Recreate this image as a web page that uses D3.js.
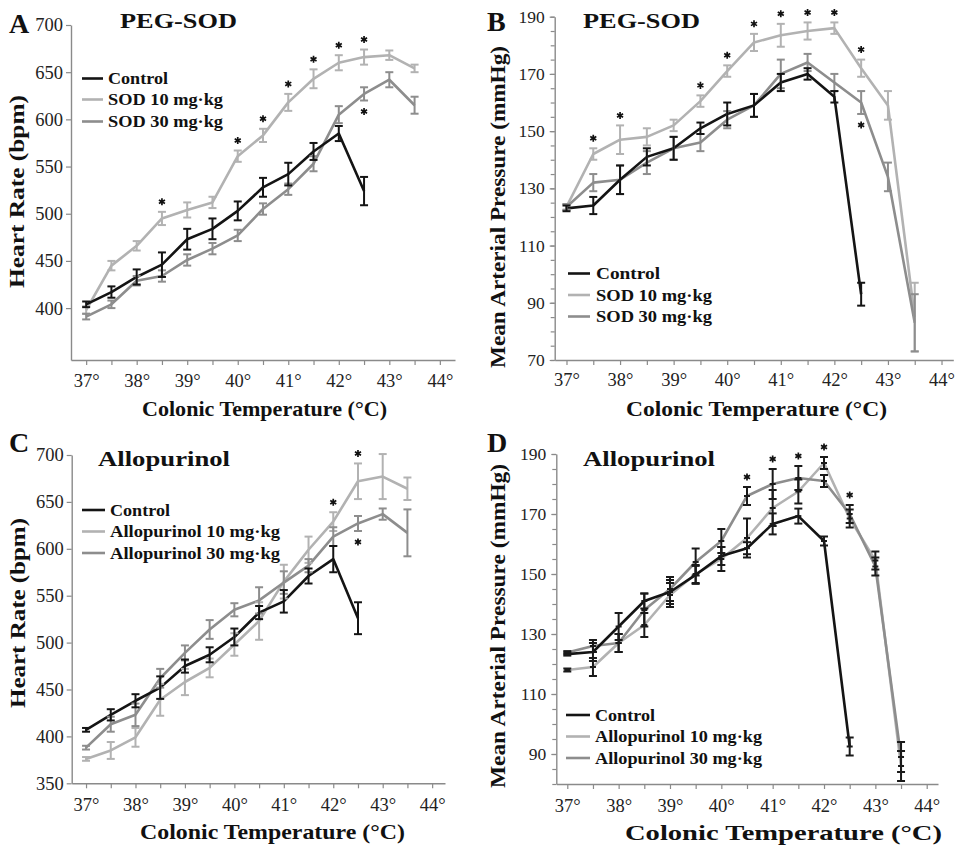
<!DOCTYPE html>
<html><head><meta charset="utf-8">
<script src="https://cdn.jsdelivr.net/npm/d3@7"></script>
<style>
body{margin:0;background:#fff}
svg{display:block}
svg text{font-family:"Liberation Serif","Times New Roman",serif !important}
</style>
</head><body>
<svg id="chart" width="956" height="846"></svg>
<script>
// ---------- shared ----------
const temps = [37, 37.5, 38, 38.5, 39, 39.5, 40, 40.5, 41, 41.5, 42, 42.5, 43, 43.5];
const xTickValues = [37, 37.5, 38, 38.5, 39, 39.5, 40, 40.5, 41, 41.5, 42, 42.5, 43, 43.5, 44];
const hrTicksA = [400, 450, 500, 550, 600, 650, 700];
const hrTicksC = [350, 400, 450, 500, 550, 600, 650, 700];
const mapTicksB = [70, 90, 110, 130, 150, 170, 190];
const mapTicksD = [90, 110, 130, 150, 170, 190];

// ---------- Panel A: PEG-SOD, heart rate ----------
const aControl    = [404, 417, 433, 446, 473, 484, 503, 528, 542, 566, 585, 524, null, null];
const aControlErr = [3, 6, 8, 13, 11, 11, 10, 10, 12, 9, 8, 15, null, null];
const aSod10      = [398, 445, 466, 495, 504, 512, 561, 583, 618, 643, 660, 666, 668, 654];
const aSod10Err   = [4, 5, 5, 7, 8, 6, 6, 7, 9, 10, 8, 8, 5, 4];
const aSod30      = [391, 404, 429, 434, 451, 463, 477, 505, 526, 553, 605, 627, 642, 615];
const aSod30Err   = [3, 4, 5, 6, 6, 6, 6, 6, 6, 8, 9, 7, 8, 9];
const aStarsAbove = [38.5, 40, 40.5, 41, 41.5, 42, 42.5];
const aStarsBelow = [42.5];

// ---------- Panel B: PEG-SOD, mean arterial pressure ----------
const bControl    = [123, 124, 133, 141, 144, 151, 156, 159, 167, 170, 162, 93, null, null];
const bControlErr = [1, 3, 5, 3, 4, 2, 4, 4, 3, 2, 2, 4, null, null];
const bSod10      = [123.5, 142, 147, 148, 152, 160.5, 171, 181, 183.5, 185, 186, 172, 159, 85];
const bSod10Err   = [1, 2, 5, 3, 2, 2, 2, 3, 4, 3, 2, 3, 5, 12];
const bSod30      = [123.5, 132, 133, 139, 144, 146, 154, 159, 170, 174, 167, 160, 134, 83];
const bSod30Err   = [1, 3, 5, 4, 4, 3, 3, 4, 5, 3, 3, 4, 5, 10];
const bStarsAbove = [37.5, 38, 39.5, 40, 40.5, 41, 41.5, 42, 42.5];
const bStarsBelow = [42.5];

// ---------- Panel C: Allopurinol, heart rate ----------
const cControl    = [407, 423, 438, 452, 475, 487, 506, 532, 544, 571, 589, 526, null, null];
const cControlErr = [2, 6, 7, 12, 7, 8, 9, 7, 12, 8, 14, 17, null, null];
const cAllo10     = [376, 385, 399, 439, 458, 473, 498, 523, 565, 599, 629, 672, 677, 664];
const cAllo10Err  = [2, 9, 10, 17, 14, 10, 12, 20, 18, 14, 10, 19, 24, 12];
const cAllo30     = [388, 413, 423, 462, 489, 514, 535, 545, 564, 582, 613, 627, 637, 617];
const cAllo30Err  = [2, 8, 12, 10, 8, 10, 7, 14, 12, 7, 10, 8, 6, 25];
const cStarsAbove = [42, 42.5];
const cStarsBelow = [42.5];

// ---------- Panel D: Allopurinol, mean arterial pressure ----------
const dControl    = [123.3, 124, 132.5, 141, 144, 149.7, 156, 158.6, 166.7, 169.3, 161, 92.5, null, null];
const dControlErr = [0.5, 3, 4.5, 2.5, 4, 3, 3, 2, 3.5, 2.5, 1.5, 3, null, null];
const dAllo10     = [118, 119, 127, 133, 143, 150, 155, 162, 172, 177.5, 187, 168.5, 154.5, 86];
const dAllo10Err  = [0.5, 3, 3, 4, 4, 3, 4, 6.5, 6, 4, 2, 3, 3, 5];
const dAllo30     = [123.8, 126, 127, 138, 145, 154, 161, 176, 180, 182, 181, 170, 152.5, 89];
const dAllo30Err  = [0.5, 2, 3, 5.5, 4, 4.5, 4, 3, 5, 4, 2, 3, 3, 5];
const dStarsAbove = [40.5, 41, 41.5, 42, 42.5];

const BLACK = "#141414", LIGHT = "#b2b2b2", DARK = "#8d8d8d", AXIS = "#8a8a8a";
const SERIF = '"Liberation Serif","Times New Roman",serif';

const svg = d3.select("#chart");
const star = d3.symbol().type(d3.symbolAsterisk).size(34);

function drawPanel(p) {
  const g = svg.append("g");
  const x = d3.scaleLinear().domain(p.xDom).range(p.xRange);
  const y = d3.scaleLinear().domain(p.yDom).range(p.yRange);

  // x axis
  const xa = g.append("g").attr("transform", `translate(0,${p.yRange[0]})`)
    .call(d3.axisBottom(x).tickValues(xTickValues).tickSize(5).tickSizeOuter(0)
      .tickPadding(p.xPad).tickFormat(d => Number.isInteger(d) ? d + "°" : ""));
  // y axis
  const ya = g.append("g").attr("transform", `translate(${p.xRange[0]},0)`)
    .call(d3.axisLeft(y).tickValues(p.yTicks).tickSize(5).tickSizeOuter(0).tickPadding(p.yPad));
  if (p.yMinor) {
    g.append("g").attr("transform", `translate(${p.xRange[0]},0)`)
      .call(d3.axisLeft(y).tickValues(p.yMinor).tickSize(4).tickSizeOuter(0).tickFormat(""))
      .select(".domain").remove();
  }
  g.selectAll("g").attr("font-family", SERIF);
  g.selectAll(".domain").attr("stroke", AXIS).attr("stroke-width", 1.4);
  g.selectAll(".tick line").attr("stroke", AXIS).attr("stroke-width", 1.2);
  xa.selectAll("text").attr("font-size", p.xFont).attr("fill", "#222").style("font-family", SERIF);
  ya.selectAll("text").attr("font-size", p.yFont).attr("fill", "#222").style("font-family", SERIF);

  const line = d3.line().defined(d => d.v != null).x(d => x(d.t)).y(d => y(d.v));

  p.series.forEach(s => {
    s.pts = temps.map((t, i) => ({t, v: s.vals[i], e: s.errs[i]}));
  });

  // lines
  p.series.forEach(s => {
    g.append("path").datum(s.pts).attr("d", line).attr("fill", "none")
      .attr("stroke", s.color).attr("stroke-width", 2.6).attr("stroke-linejoin", "round");
  });
  // error bars
  p.series.forEach(s => {
    const bc = p.barColor || s.color;
    const eg = g.append("g").attr("stroke", bc).attr("stroke-width", 2);
    const pts = s.pts.filter(d => d.v != null);
    eg.selectAll(".v").data(pts).join("line")
      .attr("x1", d => x(d.t)).attr("x2", d => x(d.t))
      .attr("y1", d => y(d.v - d.e)).attr("y2", d => y(d.v + d.e));
    eg.selectAll(".t").data(pts).join("line")
      .attr("x1", d => x(d.t) - 4).attr("x2", d => x(d.t) + 4)
      .attr("y1", d => y(d.v + d.e)).attr("y2", d => y(d.v + d.e));
    eg.selectAll(".b").data(pts).join("line")
      .attr("x1", d => x(d.t) - 4).attr("x2", d => x(d.t) + 4)
      .attr("y1", d => y(d.v - d.e)).attr("y2", d => y(d.v - d.e));
    if (p.pointMarks) {
      eg.selectAll(".m").data(pts).join("line")
        .attr("x1", d => x(d.t) - 3).attr("x2", d => x(d.t) + 3)
        .attr("y1", d => y(d.v)).attr("y2", d => y(d.v));
    }
  });

  // asterisks
  function addStar(cx, cy) {
    g.append("path").attr("d", star).attr("transform", `translate(${cx},${cy})`)
      .attr("fill", "none").attr("stroke", "#111").attr("stroke-width", 1.7);
  }
  (p.starsAbove || []).forEach(st => st.temps.forEach(t => {
    const i = temps.indexOf(t);
    const top = d3.min(st.series, s => y(s.vals[i] + s.errs[i]));
    addStar(x(t), top - 10);
  }));
  (p.starsBelow || []).forEach(st => st.temps.forEach(t => {
    const i = temps.indexOf(t);
    const bot = d3.max(st.series, s => y(s.vals[i] - s.errs[i]));
    addStar(x(t), bot + 11);
  }));

  // legend
  p.legend.items.forEach((it, k) => {
    const ly = p.legend.y[k];
    g.append("line").attr("x1", p.legend.x1).attr("x2", p.legend.x2)
      .attr("y1", ly).attr("y2", ly).attr("stroke", it.color).attr("stroke-width", 2.6);
    g.append("text").attr("x", p.legend.tx).attr("y", ly + 5.5)
      .attr("font-size", 17).attr("font-weight", "bold").attr("fill", "#111")
      .attr("textLength", it.len).attr("lengthAdjust", "spacingAndGlyphs").text(it.label);
  });

  // panel letter
  g.append("text").attr("x", p.letter.x).attr("y", p.letter.y).attr("font-size", 28)
    .attr("font-weight", "bold").attr("fill", "#111").text(p.letter.t);
  // title
  g.append("text").attr("x", p.title.x).attr("y", p.title.y).attr("font-size", 22)
    .attr("font-weight", "bold").attr("fill", "#111")
    .attr("textLength", p.title.len).attr("lengthAdjust", "spacingAndGlyphs").text(p.title.t);
  // x label
  g.append("text").attr("x", p.xLabel.x).attr("y", p.xLabel.y).attr("font-size", 21)
    .attr("font-weight", "bold").attr("fill", "#111")
    .attr("textLength", p.xLabel.len).attr("lengthAdjust", "spacingAndGlyphs")
    .text("Colonic Temperature (°C)");
  // y label
  g.append("text").attr("transform", `translate(${p.yLabel.x},${p.yLabel.y}) rotate(-90)`)
    .attr("font-size", 21).attr("font-weight", "bold").attr("fill", "#111")
    .attr("textLength", p.yLabel.len).attr("lengthAdjust", "spacingAndGlyphs").text(p.yLabel.t);
}

const sA = {c: {vals: aControl, errs: aControlErr, color: BLACK},
            s10: {vals: aSod10, errs: aSod10Err, color: LIGHT},
            s30: {vals: aSod30, errs: aSod30Err, color: DARK}};
drawPanel({
  xDom: [36.7, 44.3], xRange: [71, 455], yDom: [345, 700], yRange: [360, 25],
  yTicks: hrTicksA, xPad: 9, yPad: 3, xFont: 18.5, yFont: 18.5,
  series: [sA.s10, sA.s30, sA.c],
  starsAbove: [{temps: aStarsAbove, series: [sA.s10]}],
  starsBelow: [{temps: aStarsBelow, series: [sA.s30]}],
  legend: {x1: 82, x2: 103, tx: 108, y: [78.5, 99.5, 121.5], items: [
    {label: "Control", color: BLACK, len: 60},
    {label: "SOD 10 mg·kg", color: LIGHT, len: 115},
    {label: "SOD 30 mg·kg", color: DARK, len: 115}]},
  letter: {t: "A", x: 9, y: 33}, title: {t: "PEG-SOD", x: 120, y: 28, len: 117},
  xLabel: {x: 142, y: 416, len: 245}, yLabel: {t: "Heart Rate (bpm)", x: 24, y: 288, len: 193}
});

const sB = {c: {vals: bControl, errs: bControlErr, color: BLACK},
            s10: {vals: bSod10, errs: bSod10Err, color: LIGHT},
            s30: {vals: bSod30, errs: bSod30Err, color: DARK}};
drawPanel({
  xDom: [36.78, 44.22], xRange: [554.7, 953.3], yDom: [70, 190], yRange: [360, 16.7],
  yTicks: mapTicksB, yMinor: d3.range(70, 191, 5), xPad: 8, yPad: 5, xFont: 18.5, yFont: 17.5,
  series: [sB.s10, sB.s30, sB.c],
  starsAbove: [{temps: bStarsAbove, series: [sB.s10]}],
  starsBelow: [{temps: bStarsBelow, series: [sB.s30]}],
  legend: {x1: 568, x2: 590, tx: 596, y: [273.5, 295, 316.5], items: [
    {label: "Control", color: BLACK, len: 64},
    {label: "SOD 10 mg·kg", color: LIGHT, len: 116},
    {label: "SOD 30 mg·kg", color: DARK, len: 116}]},
  letter: {t: "B", x: 487, y: 31}, title: {t: "PEG-SOD", x: 583, y: 28, len: 117},
  xLabel: {x: 626, y: 416, len: 261}, yLabel: {t: "Mean Arterial Pressure (mmHg)", x: 505, y: 368, len: 322}
});

const sC = {c: {vals: cControl, errs: cControlErr, color: BLACK},
            a10: {vals: cAllo10, errs: cAllo10Err, color: LIGHT},
            a30: {vals: cAllo30, errs: cAllo30Err, color: DARK}};
drawPanel({
  xDom: [36.71, 44.26], xRange: [71.7, 445], yDom: [350, 700], yRange: [783.3, 455],
  yTicks: hrTicksC, xPad: 10, yPad: 3, xFont: 18.5, yFont: 18.5,
  series: [sC.a10, sC.a30, sC.c],
  starsAbove: [{temps: cStarsAbove, series: [sC.a10]}],
  starsBelow: [{temps: cStarsBelow, series: [sC.a30]}],
  legend: {x1: 82, x2: 105, tx: 110, y: [510, 531.5, 553], items: [
    {label: "Control", color: BLACK, len: 60},
    {label: "Allopurinol 10 mg·kg", color: LIGHT, len: 170},
    {label: "Allopurinol 30 mg·kg", color: DARK, len: 170}]},
  letter: {t: "C", x: 9, y: 452}, title: {t: "Allopurinol", x: 98, y: 466, len: 132},
  xLabel: {x: 140, y: 839, len: 265}, yLabel: {t: "Heart Rate (bpm)", x: 25, y: 708, len: 190}
});

const sD = {c: {vals: dControl, errs: dControlErr, color: BLACK},
            a10: {vals: dAllo10, errs: dAllo10Err, color: LIGHT},
            a30: {vals: dAllo30, errs: dAllo30Err, color: DARK}};
drawPanel({
  xDom: [36.786, 44.22], xRange: [556.3, 938], yDom: [80, 190], yRange: [784, 454],
  yTicks: mapTicksD, yMinor: d3.range(80, 191, 5), xPad: 10, yPad: 5, xFont: 18.5, yFont: 17.5,
  barColor: "#1a1a1a", pointMarks: true,
  series: [sD.a10, sD.a30, sD.c],
  starsAbove: [{temps: dStarsAbove, series: [sD.a10, sD.a30]}],
  legend: {x1: 566, x2: 590, tx: 595, y: [715, 736.5, 758], items: [
    {label: "Control", color: BLACK, len: 60},
    {label: "Allopurinol 10 mg·kg", color: LIGHT, len: 167},
    {label: "Allopurinol 30 mg·kg", color: DARK, len: 167}]},
  letter: {t: "D", x: 487, y: 452}, title: {t: "Allopurinol", x: 583, y: 466, len: 132},
  xLabel: {x: 625, y: 840, len: 317}, yLabel: {t: "Mean Arterial Pressure (mmHg)", x: 505, y: 788, len: 324}
});
</script>
</body></html>
